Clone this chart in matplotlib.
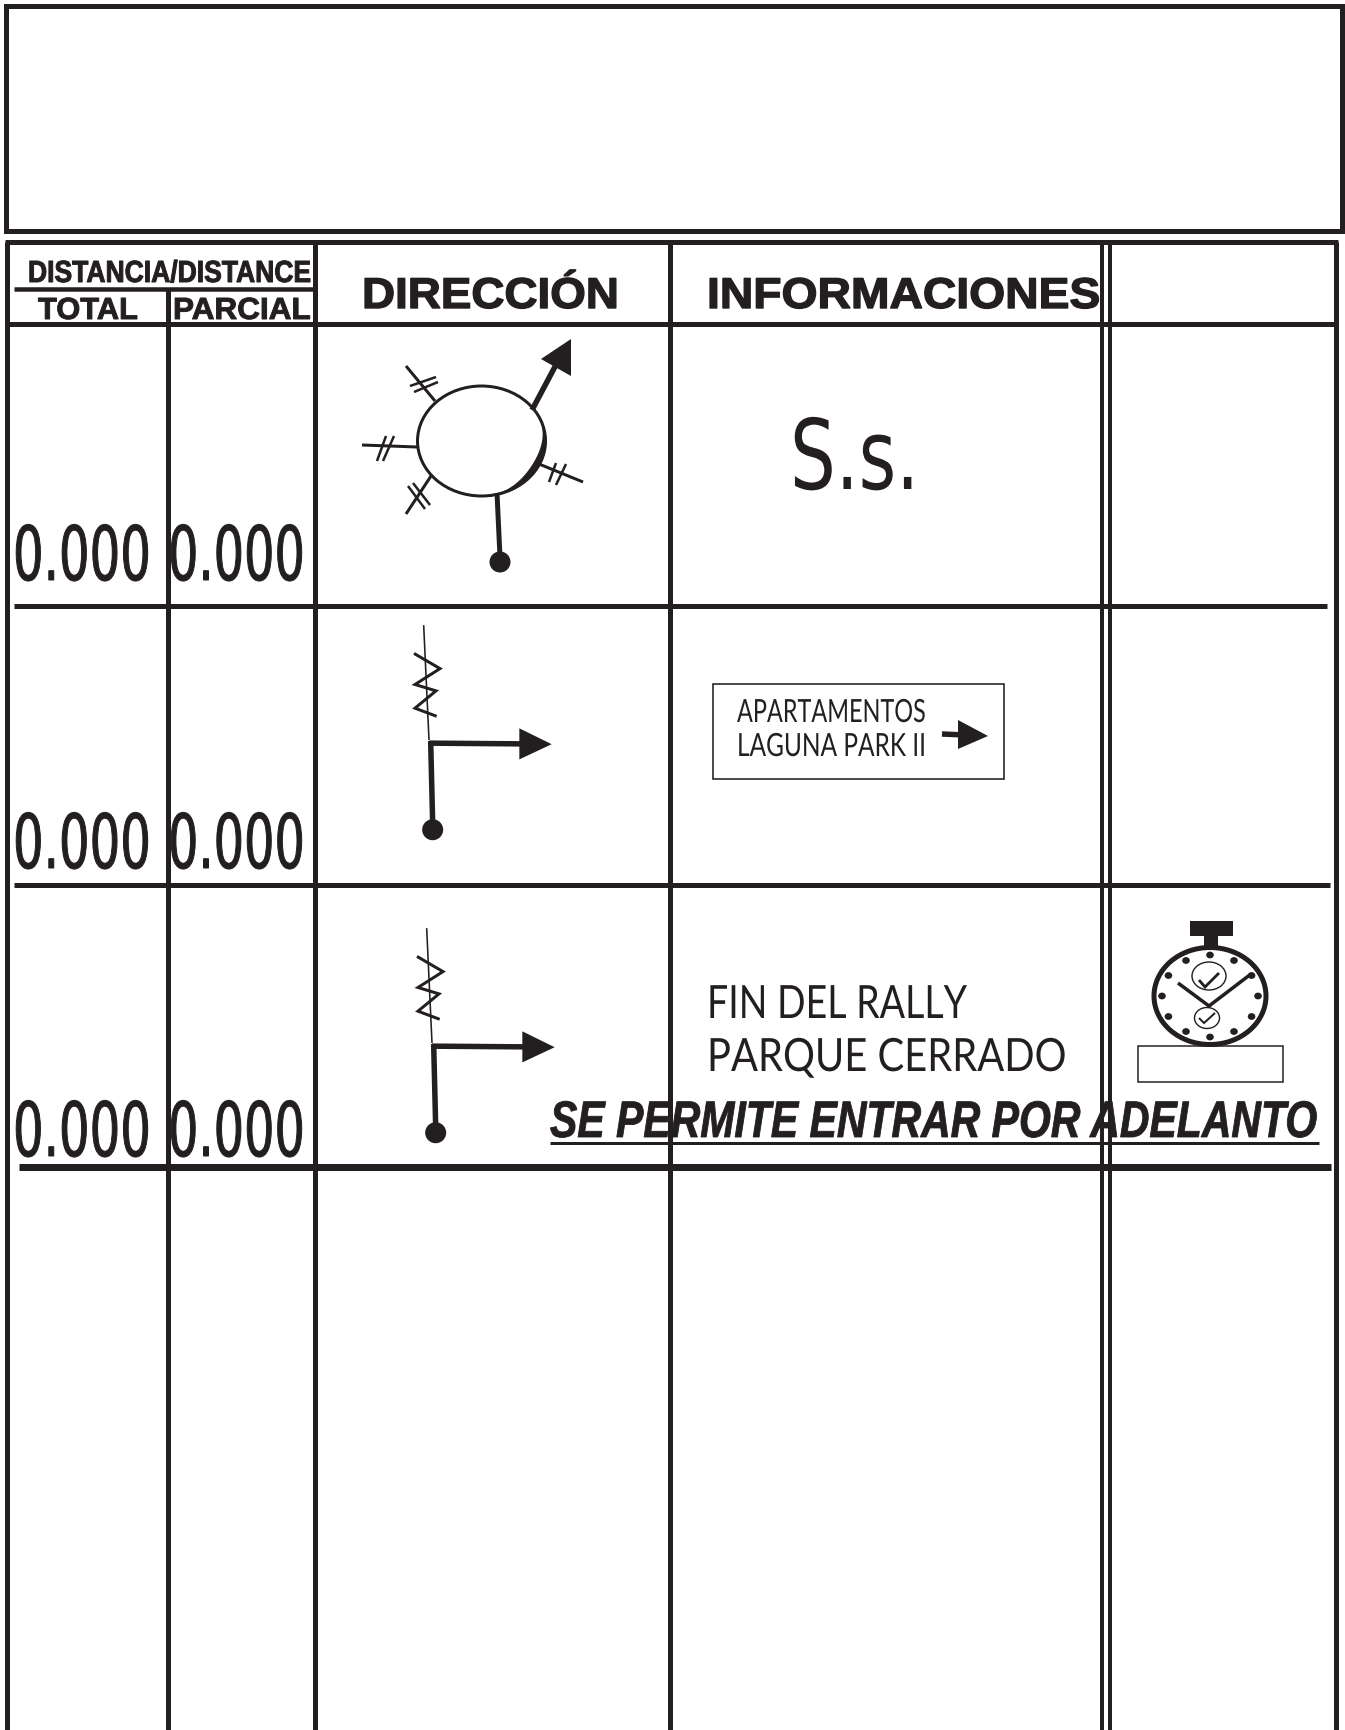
import numpy as np
import matplotlib
matplotlib.use("Agg")
import matplotlib.pyplot as plt
from matplotlib.patches import Rectangle, Ellipse, Polygon
from matplotlib.patheffects import AbstractPathEffect
from matplotlib.transforms import Affine2D, Bbox

INK = "#231f20"
W, H = 1345, 1731

# table grid (pixel positions of the road-book form)
column_x = [315, 670, 1102, 1110]
row_y = [606.5, 886]
row_end = [1327, 1330]
distances_total = ["0.000", "0.000", "0.000"]
distances_partial = ["0.000", "0.000", "0.000"]
row_baselines = [581, 869, 1157]
sign_lines = ["APARTAMENTOS", "LAGUNA PARK II"]
final_lines = ["FIN DEL RALLY", "PARQUE CERRADO"]

fig = plt.figure(figsize=(W / 100, H / 100), dpi=100)
ax = fig.add_axes([0, 0, 1, 1])
ax.set_xlim(0, W)
ax.set_ylim(H, 0)
ax.axis("off")
fig.canvas.draw()
rend = fig.canvas.get_renderer()
px = 0.72


class Stretch(AbstractPathEffect):
    def __init__(self, x0, sx, stroke=0):
        super().__init__()
        self.x0, self.sx, self.stroke = x0, sx, stroke

    def draw_path(self, renderer, gc, tpath, affine, rgbFace=None):
        t = affine + Affine2D().translate(-self.x0, 0).scale(self.sx, 1).translate(self.x0, 0)
        g = renderer.new_gc()
        g.copy_properties(gc)
        g.set_linewidth(self.stroke)
        renderer.draw_path(g, tpath, t, rgbFace)
        g.restore()


def label(s, x0, x1, base, cap, family="Liberation Sans", stroke=0, **kw):
    t = ax.text(x0, base, s, fontsize=cap, family=family, color=INK, va="baseline", ha="left", **kw)
    w = t.get_window_extent(rend).width
    t.set_path_effects([Stretch(x0, (x1 - x0) / w, stroke)])
    orig = t.get_window_extent

    def extent(renderer=None, dpi=None):
        b = orig(renderer, dpi)
        return Bbox.from_extents(x0, b.y0, x1, b.y1)

    t.get_window_extent = extent
    return t


def line(xs, ys, w, **kw):
    ax.plot(xs, ys, color=INK, lw=w * px, solid_capstyle=kw.pop("cap", "butt"),
            solid_joinstyle="miter", **kw)


def poly(pts):
    ax.add_patch(Polygon(pts, closed=True, fc=INK, ec="none"))


def dot(x, y, rx, ry=None):
    ax.add_patch(Ellipse((x, y), 2 * rx, 2 * (ry or rx), fc=INK, ec="none"))


# frames
ax.add_patch(Rectangle((6, 7), 1336, 225, fc="none", ec=INK, lw=5 * px))
line([7, 7], [243, H], 5)
line([1336, 1336], [243, H], 5)
line([5, 1338], [243, 243], 5)
line([7, 1336], [325, 325], 5)
line([14, 315], [290, 290], 4.5)
line([168, 168], [290, H], 5)
for x in column_x:
    line([x, x], [243, H], 5 if x in (315, 670) else 4)
for y, e in zip(row_y, row_end):
    line([14, e], [y, y], 5)
line([19, 1331], [1167.5, 1167.5], 7)

# headers
label("DISTANCIA/DISTANCE", 28, 310, 283, 22, weight="bold", stroke=0.7)
label("TOTAL", 38, 138, 320, 22, weight="bold", stroke=0.7)
label("PARCIAL", 173, 310, 320, 22, weight="bold", stroke=0.7)
label("DIRECCIÓN", 362, 618, 309, 31, weight="bold", stroke=1)
label("INFORMACIONES", 707, 1099, 309, 31, weight="bold", stroke=1)

# distances
for a, b, y in zip(distances_total, distances_partial, row_baselines):
    label(a, 13, 151, y, 54, family="Liberation Sans Narrow", stroke=0.7)
    label(b, 168, 305, y, 54, family="Liberation Sans Narrow", stroke=0.7)

# roundabout
c = (481.5, 442)
rx, ry = 64, 55
ax.add_patch(Ellipse(c, 2 * rx, 2 * ry, fc="none", ec=INK, lw=3 * px))
theta = np.linspace(-30, 85, 80)
t_rad = np.radians(theta)
thick = 1.5 + 5.5 * np.sin(np.pi * (theta + 30) / 115) ** 2
outer = np.c_[c[0] + (rx + 1) * np.cos(t_rad), c[1] + (ry + 1) * np.sin(t_rad)]
inner = np.c_[c[0] + (rx + 1 - thick) * np.cos(t_rad), c[1] + (ry + 1 - thick) * np.sin(t_rad)]
poly(np.vstack([outer, inner[::-1]]))
spokes = [((435, 402), (406, 367)), ((417, 448), (362, 446)),
          ((431, 477), (406, 515)), ((539, 465), (583, 483))]
for p, q in spokes:
    line([p[0], q[0]], [p[1], q[1]], 3)
hashes = [((410, 387), (436, 378)), ((414, 393), (438, 383)),
          ((377, 462), (386, 437)), ((383, 462), (394, 437)),
          ((408, 487), (425, 510)), ((413, 484), (430, 506)),
          ((549, 483), (556, 464)), ((556, 486), (566, 465))]
for p, q in hashes:
    line([p[0], q[0]], [p[1], q[1]], 2.5)
line([497, 500], [494, 558], 5)
dot(500, 563, 10.5)
line([532, 558], [411, 362], 5.5)
poly([(571, 340), (541, 360), (571, 377)])

# S.s.
label("S.s.", 790, 919, 490, 70, family="Liberation Sans Narrow")

# junction symbols
zig = np.array([(102, 120), (180, 163), (105, 208), (168, 226), (105, 275), (170, 298)])
for ox, oy in [(380, 612), (383, 915)]:
    X = lambda v: ox + np.asarray(v) / 3
    Y = lambda v: oy + np.asarray(v) / 2.83
    line(X([131, 147]), Y([40, 365]), 1.6)
    line(X(zig[:, 0]), Y(zig[:, 1]), 3)
    line(X([152, 158]), Y([368, 600]), 5.5)
    line(X([147, 425]), Y([374, 376]), 5.5)
    poly(list(zip(X([418, 515, 418]), Y([332, 377, 420]))))
    dot(float(X(158)), float(Y(619)), 10.5)

# direction sign
ax.add_patch(Rectangle((713, 685), 291, 95, fc="none", ec=INK, lw=1.6 * px))
label(sign_lines[0], 737, 926, 723, 23, family="Lato")
label(sign_lines[1], 737, 926, 757, 23, family="Lato")
line([942, 965], [735, 736], 5.5)
poly([(958, 721), (988, 737), (958, 750)])

# final text
label(final_lines[0], 707, 968, 1019, 33, family="Lato")
label(final_lines[1], 707, 1067, 1072, 33, family="Lato")
label("SE PERMITE ENTRAR POR ADELANTO", 550, 1317, 1138, 37, weight="bold", style="italic", stroke=0.6)
line([550, 1319], [1144, 1144], 3)

# stopwatch
sc = (1210, 997)
srx, sry = 58.5, 51
ax.add_patch(Ellipse(sc, 2 * srx - 5, 2 * sry - 5, fc="none", ec=INK, lw=5 * px))
ax.add_patch(Rectangle((1190, 922), 43, 15, fc=INK, ec="none"))
ax.add_patch(Rectangle((1204, 937), 14, 12, fc=INK, ec="none"))
for a in np.radians(np.arange(0, 360, 30)):
    dot(sc[0] + 48 * np.cos(a), sc[1] + 41 * np.sin(a), 3.8, 3.4)
line([1178, 1209, 1251], [984, 1007, 975], 3.5)
for (x, y, a, b) in [(1209, 977, 17, 14), (1207, 1019, 12.5, 10.5)]:
    ax.add_patch(Ellipse((x, y), 2 * a, 2 * b, fc="white", ec=INK, lw=1.4 * px))
line([1199, 1205, 1219], [981, 988, 974], 2.8)
line([1199, 1204, 1215], [1019, 1024, 1014], 2)
ax.add_patch(Rectangle((1138, 1047), 145, 36, fc="none", ec=INK, lw=1.5 * px))

fig.savefig("out.png", dpi=100, facecolor="white")
